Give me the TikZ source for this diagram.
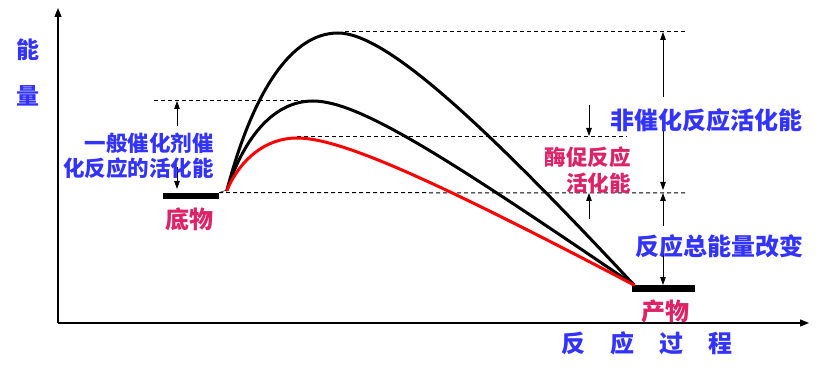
\documentclass[tikz,border=0pt]{standalone}
\usepackage{fontspec}
\newfontfamily\cjk{Noto Sans CJK SC}
\usetikzlibrary{arrows.meta}
\definecolor{tblue}{RGB}{51,51,255}
\definecolor{tpink}{RGB}{221,34,102}
\begin{document}
\begin{tikzpicture}[x=1pt,y=-1pt,
  axis/.style={line width=1.3pt,-{Triangle[length=9pt,width=7pt]}},
  dim/.style={line width=0.9pt,-{Triangle[length=8pt,width=5.5pt]}},
  guide/.style={line width=1pt,dash pattern=on 4pt off 3pt},
  curve/.style={line width=3pt,line cap=round},
  bar/.style={fill=black,inner sep=0pt,minimum height=6.5pt},
  bl/.style={text=tblue,font=\cjk\bfseries\fontsize{24}{24}\selectfont,inner sep=0pt},
  blsm/.style={text=tblue,font=\cjk\bfseries\fontsize{21.5}{21.5}\selectfont,inner sep=0pt},
  pk/.style={text=tpink,font=\cjk\bfseries\fontsize{24}{24}\selectfont,inner sep=0pt},
  pksm/.style={text=tpink,font=\cjk\bfseries\fontsize{21.5}{21.5}\selectfont,inner sep=0pt}]
\useasboundingbox[fill=white] (0,0) rectangle (826,371);

% axes
\coordinate (O) at (58,323);
\coordinate (ytip) at (58,8);
\coordinate (xtip) at (809,323);
\draw[axis] (O) -- (ytip);
\draw[axis] (O) -- (xtip);

% bars
\node[bar,minimum width=56pt] (sub) at (191,196) {};
\node[bar,minimum width=63pt] (prod) at (663.5,288.5) {};

% key points
\coordinate (S) at (227,190);
\coordinate (E) at (634,285);
\coordinate (pTop) at (338,33);
\coordinate (pMid) at (313,101);
\coordinate (pRed) at (297,138);

% guide lines
\coordinate (g1a) at (345,32);   \coordinate (g1b) at (686,32);
\coordinate (g2a) at (154,101);  \coordinate (g2b) at (322,101);
\coordinate (g3a) at (297,137);  \coordinate (g3b) at (627,137);
\coordinate (g4b) at (686,193);
\draw[guide] (g1a) -- (g1b);
\draw[guide] (g2a) -- (g2b);
\draw[guide] (g3a) -- (g3b);
\draw[guide] (sub.north east) -- (g4b);
\draw[line width=0.5pt] (sub.north east) -- (S);

% curves
\draw[curve,black] (S) .. controls (252,95) and (290,33) .. (pTop)
  .. controls (385,33) and (480,120) .. (E);
\draw[curve,black] (S) .. controls (245,135) and (275,101) .. (pMid)
  .. controls (360,101) and (450,160) .. (E);
\draw[curve,red] (S) .. controls (240,160) and (265,138) .. (pRed)
  .. controls (340,138) and (430,178) .. (E);

% dimension arrows
\coordinate (a1t) at (177,126); \coordinate (a1h) at (177,101);
\coordinate (a2t) at (177,167); \coordinate (a2h) at (177,189);
\draw[dim] (a1t) -- (a1h);
\draw[dim] (a2t) -- (a2h);

\coordinate (b1t) at (589,105); \coordinate (b1h) at (589,136);
\coordinate (b2t) at (589,219); \coordinate (b2h) at (589,193);
\draw[dim] (b1t) -- (b1h);
\draw[dim] (b2t) -- (b2h);

\coordinate (c1t) at (663,97);  \coordinate (c1h) at (663,32);
\coordinate (c2t) at (663,130); \coordinate (c2h) at (663,190);
\coordinate (c3t) at (663,226); \coordinate (c3h) at (663,193);
\coordinate (c4t) at (663,253); \coordinate (c4h) at (663,285);
\draw[dim] (c1t) -- (c1h);
\draw[dim] (c2t) -- (c2h);
\draw[dim] (c3t) -- (c3h);
\draw[dim] (c4t) -- (c4h);

% texts
\node[bl,font=\cjk\bfseries\fontsize{23}{23}\selectfont] (yl1) at (28,50) {能};
\node[bl,font=\cjk\bfseries\fontsize{23}{23}\selectfont] (yl2) at (28,96) {量};
\node[blsm,anchor=east] (gen1) at (214,143.5) {一般催化剂催};
\node[blsm,anchor=east] (gen2) at (214,168.5) {化反应的活化能};
\node[pk] (subl) at (189,219) {底物};
\node[pk] (prodl) at (665,311) {产物};
\node[bl,anchor=west] (nonc) at (610,120) {非催化反应活化能};
\node[pksm,anchor=east] (enz1) at (631,157) {酶促反应};
\node[pksm,anchor=east] (enz2) at (631,183) {活化能};
\node[bl,anchor=west] (tot) at (635,246) {反应总能量改变};
\node[bl] (x1) at (573.5,343.5) {反};
\node[bl] (x2) at (622.5,343.5) {应};
\node[bl] (x3) at (671,343.5) {过};
\node[bl] (x4) at (720,343.5) {程};
\end{tikzpicture}
\end{document}
